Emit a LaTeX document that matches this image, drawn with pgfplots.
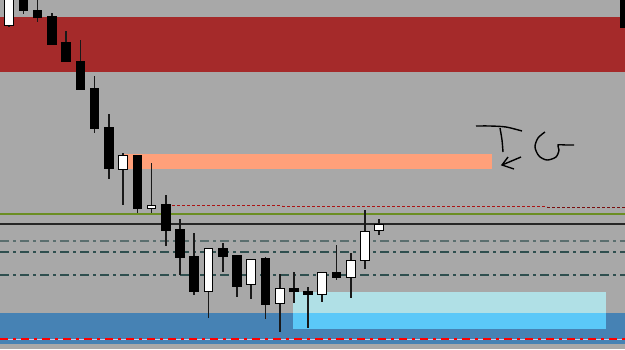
\documentclass[border=0pt]{standalone}
\usepackage{pgfplots}
\pgfplotsset{compat=1.18}
\definecolor{bggray}{RGB}{168,168,168}
\definecolor{bandred}{RGB}{165,42,42}
\definecolor{salmonz}{RGB}{255,160,122}
\definecolor{bandblue}{RGB}{70,130,180}
\definecolor{cyanup}{RGB}{176,224,230}
\definecolor{cyanlow}{RGB}{91,200,248}
\definecolor{olivel}{RGB}{107,142,35}
\definecolor{tealA}{RGB}{90,110,110}
\definecolor{tealB}{RGB}{47,79,79}
\definecolor{dotred}{RGB}{170,20,20}
\newcommand{\candle}[6]{%
  \pgfmathsetmacro\xl{#1-4.3}\pgfmathsetmacro\xr{#1+4.3}%
  \edef\tmp{\noexpand\addplot[black!90, line width=1.3pt] coordinates {(#1,#4) (#1,#5)};
  \noexpand\addplot[draw=black, line width=0.9pt, fill=#6] coordinates {(\xl,#2) (\xr,#2) (\xr,#3) (\xl,#3)} -- cycle;}%
  \tmp}
\begin{document}
\begin{tikzpicture}
\begin{axis}[
  width=625pt, height=349pt, scale only axis,
  xmin=0, xmax=625, ymin=0, ymax=349, y dir=reverse,
  axis line style={draw=none}, ticks=none,
  axis background/.style={fill=bggray},
  clip=true
]
% zones
\addplot[draw=none, fill=bandred] coordinates {(0,17) (625,17) (625,72) (0,72)} -- cycle;
\addplot[draw=none, fill=salmonz] coordinates {(123,154) (492,154) (492,169) (123,169)} -- cycle;
\addplot[draw=none, fill=bandblue] coordinates {(0,313) (625,313) (625,344) (0,344)} -- cycle;
\addplot[draw=none, fill=cyanup] coordinates {(293,292) (606,292) (606,313) (293,313)} -- cycle;
\addplot[draw=none, fill=cyanlow] coordinates {(293,313) (606,313) (606,329) (293,329)} -- cycle;
% horizontal lines
\addplot[olivel, line width=1.4pt] coordinates {(0,214) (625,214)};
\addplot[black!85, line width=1.4pt] coordinates {(0,224) (625,224)};
\addplot[tealA, line width=1.5pt, dash pattern=on 9pt off 4pt on 3pt off 4pt] coordinates {(0,241) (625,241)};
\addplot[tealB, line width=1.2pt, dash pattern=on 9pt off 4pt on 3pt off 4pt] coordinates {(0,252) (625,252)};
\addplot[tealB, line width=1.2pt, dash pattern=on 9pt off 4pt on 3pt off 4pt] coordinates {(0,275) (625,275)};
\addplot[dotred, line width=1pt, dash pattern=on 3pt off 2pt] coordinates {(172,205) (282,205)};
\addplot[dotred, line width=1pt, dash pattern=on 3pt off 2pt] coordinates {(282,206) (547,206)};
\addplot[dotred!70!black, line width=1pt, dash pattern=on 3pt off 2pt] coordinates {(547,207) (625,207)};
\addplot[gray!60!blue!30, line width=1pt] coordinates {(0,339) (625,339)};
\addplot[red, line width=1.3pt, dash pattern=on 8pt off 5pt on 3pt off 5pt] coordinates {(0,339) (625,339)};
% candles: x, body top, body bottom, high, low, fill
\candle{9}{-5}{25}{-10}{27}{white}
\candle{23.5}{-5}{10}{-10}{14}{black}
\candle{37.5}{10}{17}{-5}{22}{black}
\candle{52}{16}{44}{13}{44}{black}
\candle{66}{42}{61}{31}{61}{black}
\candle{80.5}{61}{89}{40}{89}{black}
\candle{94.5}{88}{128}{76}{133}{black}
\candle{109}{127}{168}{114}{179}{black}
\candle{123}{155}{169}{153}{205}{white}
\candle{137.5}{155}{208}{155}{213}{black}
\candle{151.5}{205}{208}{163}{213}{white}
\candle{166}{204}{230}{195}{246}{black}
\candle{180}{229}{257}{219}{275}{black}
\candle{194}{256}{291}{233}{295}{black}
\candle{208.5}{248}{291}{248}{318}{white}
\candle{223}{248}{256}{243}{272}{black}
\candle{237}{255}{286}{255}{297}{black}
\candle{251}{259}{284}{259}{299}{white}
\candle{265.5}{258}{304}{257}{319}{black}
\candle{280}{288}{303}{274}{332}{white}
\candle{294}{288}{291}{272}{303}{black}
\candle{308}{291}{294}{287}{328}{black}
\candle{322}{272}{294}{272}{302}{white}
\candle{336.5}{272}{277}{245}{280}{black}
\candle{351}{260}{277}{253}{298}{white}
\candle{365}{231}{260}{210}{269}{white}
\candle{379}{224}{230}{219}{235}{white}
\candle{624.5}{-5}{27}{-10}{27}{black}
% handwritten TG annotation
\addplot[black, line width=1.4pt, smooth] coordinates {(476,126) (490,126) (506,127) (522,131)};
\addplot[black, line width=1.4pt, smooth] coordinates {(500,128) (502,140) (503,152)};
\addplot[black, line width=1.4pt] coordinates {(521,157) (502,165)};
\addplot[black, line width=1.4pt] coordinates {(508,157) (502,165) (514,169)};
\addplot[black, line width=1.4pt, smooth] coordinates {(545,132) (538,138) (535,147) (539,156) (547,160) (556,157) (559,150) (558,145) (566,145) (574,145)};
\end{axis}
\end{tikzpicture}
\end{document}
